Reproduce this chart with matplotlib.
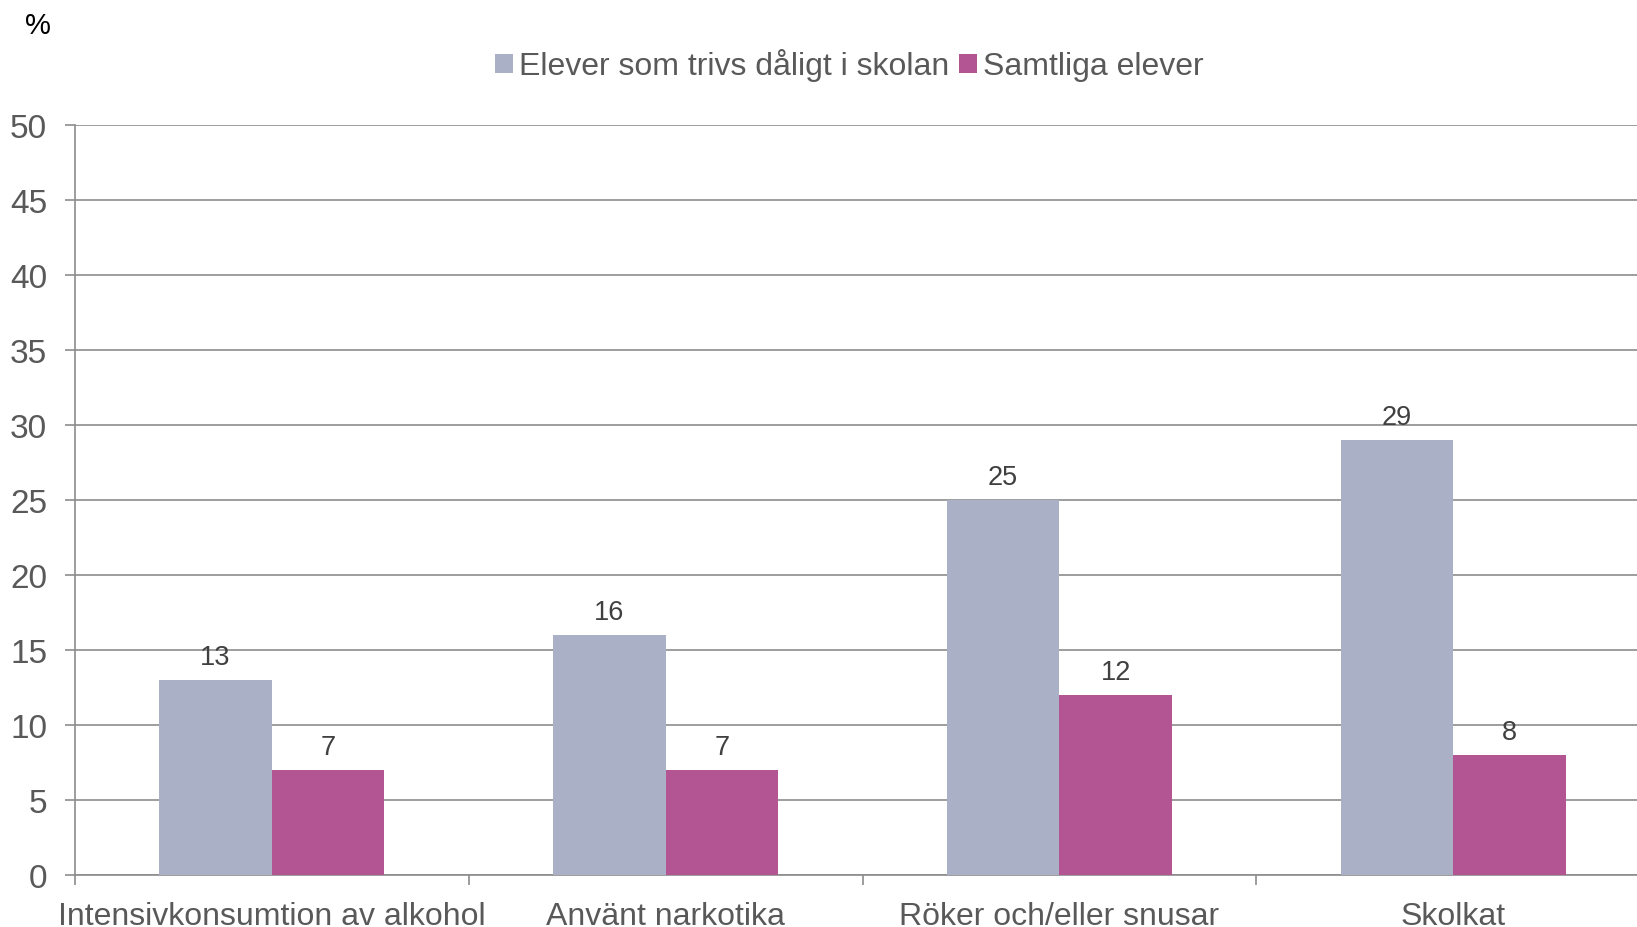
import matplotlib
matplotlib.use("Agg")
import matplotlib.pyplot as plt
import numpy as np

categories = ["Intensivkonsumtion av alkohol", "Använt narkotika",
              "Röker och/eller snusar", "Skolkat"]
series_names = ["Elever som trivs dåligt i skolan", "Samtliga elever"]
dalig = [13, 16, 25, 29]
samtliga = [7, 7, 12, 8]
yticks = [0, 5, 10, 15, 20, 25, 30, 35, 40, 45, 50]

colors = ["#AAB0C6", "#B35592"]
txt = "#595959"
grid = "#8C8C8C"

plt.rcParams['font.family'] = ['Liberation Sans', 'DejaVu Sans']

fig = plt.figure(figsize=(16.37, 9.28), dpi=100)
ax = fig.add_axes([75/1637, 52/928, 1575/1637, 750/928])

x = np.arange(len(categories))
w = 0.286
b1 = ax.bar(x - w/2, dalig, w, color=colors[0], label=series_names[0], zorder=3)
b2 = ax.bar(x + w/2, samtliga, w, color=colors[1], label=series_names[1], zorder=3)

for bars in (b1, b2):
    for r in bars:
        ax.annotate(f"{r.get_height():g}", (r.get_x() + r.get_width()/2, r.get_height()),
                    xytext=(0, 7), textcoords="offset points", ha="center", va="bottom",
                    fontsize=19.5, color="#404040", zorder=4)

ax.set_xlim(-0.5, len(categories) - 0.5)
ax.set_ylim(0, 50)
ax.set_yticks(yticks)
ax.yaxis.grid(True, color=grid, linewidth=1.2, zorder=0)
ax.set_axisbelow(True)

ax.set_xticks(x)
ax.set_xticklabels(categories, fontsize=23, color=txt)
ax.set_xticks(np.arange(len(categories) + 1) - 0.5, minor=True)
ax.tick_params(axis="x", which="major", length=0, pad=18.5)
ax.tick_params(axis="x", which="minor", length=7, width=1.2, color=grid, direction="out")
ax.tick_params(axis="y", length=7, width=1.2, color=grid, pad=13, labelsize=24, labelcolor=txt)

for s in ("top", "right"):
    ax.spines[s].set_visible(False)
for s in ("left", "bottom"):
    ax.spines[s].set_color(grid)
    ax.spines[s].set_linewidth(1.2)

fig.text(38/1637, 1 - 26/928, "%", fontsize=21, color="black", ha="center", va="center")

fig.legend(handles=[b1, b2], labels=series_names, loc="center", bbox_to_anchor=(0.519, 1 - 66/928),
           ncol=2, frameon=False, fontsize=23, labelcolor=txt, handlelength=0.55, handleheight=0.55,
           handletextpad=0.2, columnspacing=0.3)

fig.savefig("out.png", dpi=100)
